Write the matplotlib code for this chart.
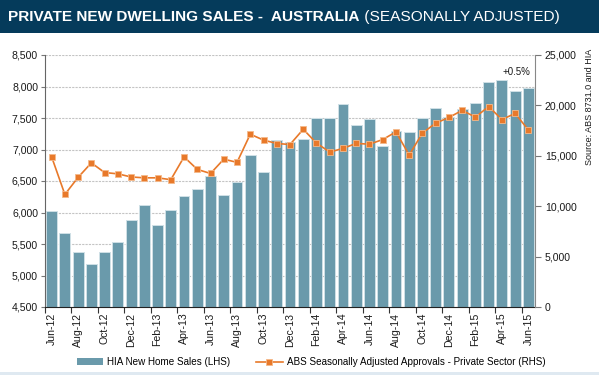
import matplotlib
matplotlib.use('Agg')
import matplotlib.pyplot as plt
import numpy as np
from matplotlib import font_manager
from matplotlib.patches import Rectangle, Patch
from matplotlib.lines import Line2D

names = {f.name for f in font_manager.fontManager.ttflist}
NARROW = 'Liberation Sans Narrow' if 'Liberation Sans Narrow' in names else 'Liberation Sans'
REG = 'Liberation Sans'

months = ['Jun-12', 'Jul-12', 'Aug-12', 'Sep-12', 'Oct-12', 'Nov-12', 'Dec-12',
          'Jan-13', 'Feb-13', 'Mar-13', 'Apr-13', 'May-13', 'Jun-13', 'Jul-13',
          'Aug-13', 'Sep-13', 'Oct-13', 'Nov-13', 'Dec-13', 'Jan-14', 'Feb-14',
          'Mar-14', 'Apr-14', 'May-14', 'Jun-14', 'Jul-14', 'Aug-14', 'Sep-14',
          'Oct-14', 'Nov-14', 'Dec-14', 'Jan-15', 'Feb-15', 'Mar-15', 'Apr-15',
          'May-15', 'Jun-15']

hia_sales = [6020, 5680, 5378, 5182, 5372, 5532, 5876, 6120, 5798, 6035,
             6268, 6368, 6584, 6278, 6490, 6908, 6648, 7152, 7122, 7162,
             7493, 7503, 7721, 7388, 7477, 7058, 7286, 7284, 7495, 7663,
             7520, 7646, 7734, 8068, 8110, 7932, 7972]

abs_approvals = [14900, 11170, 12860, 14300, 13340, 13210, 12900, 12815, 12815, 12630,
                 14890, 13650, 13245, 14665, 14350, 17140, 16560, 16220, 16120, 17633,
                 16260, 15370, 15735, 16230, 16150, 16612, 17370, 15080, 17255, 18240,
                 18800, 19510, 18835, 19890, 18600, 19200, 17567]

left_ticks = [4500, 5000, 5500, 6000, 6500, 7000, 7500, 8000, 8500]
right_ticks = [0, 5000, 10000, 15000, 20000, 25000]

title_bold = 'PRIVATE NEW DWELLING SALES -  AUSTRALIA'
title_rest = ' (SEASONALLY ADJUSTED)'
bar_label = 'HIA New Home Sales (LHS)'
line_label = 'ABS Seasonally Adjusted Approvals - Private Sector (RHS)'
source_text = 'Source: ABS 8731.0 and HIA'
annot_text = '+0.5%'

BAR_C = '#6a9aab'
LINE_C = '#e8792a'
HEADER_C = '#053b5b'
TXT = '#1a1a1a'

fig = plt.figure(figsize=(5.99, 3.75), dpi=100)
fig.patch.set_facecolor('white')

# header bar
fig.patches.append(Rectangle((0, 1 - 33 / 375), 1, 33 / 375, transform=fig.transFigure,
                             facecolor=HEADER_C, edgecolor='none', zorder=0))
# bottom light strip
fig.patches.append(Rectangle((0, 0), 1, 3 / 375, transform=fig.transFigure,
                             facecolor='#dfe9f1', edgecolor='none', zorder=0))

ax = fig.add_axes([45 / 599, 1 - 307 / 375, 490 / 599, 252 / 375])
x = np.arange(len(months))
ax.bar(x, hia_sales, width=0.82, color=BAR_C, edgecolor='#cfe0e6', linewidth=0.7,
       zorder=2)
ax.set_ylim(4500, 8500)
ax.set_xlim(-0.5, len(months) - 0.5)
ax.set_yticks(left_ticks)
ax.set_yticklabels([f'{v:,}' for v in left_ticks], fontfamily=REG, fontsize=7.6, color=TXT)
ax.yaxis.grid(True, color='#c4c4c4', linestyle=(0, (2, 1)), linewidth=0.8)
ax.set_axisbelow(True)

# x ticks: marks at boundaries every two months, labels centred on bars
ax.set_xticks(np.arange(-0.5, len(months), 2))
ax.set_xticklabels([])
ax.tick_params(axis='x', which='major', length=4, width=0.8, color='#333333')
ax.set_xticks(x[::2], minor=True)
ax.set_xticklabels(months[::2], minor=True, rotation=90, fontfamily=REG, fontsize=7.6,
                   color=TXT)
ax.tick_params(axis='x', which='minor', length=0, pad=4)
ax.tick_params(axis='y', length=3, width=0.8, color='#777777', pad=2)

ax.spines['top'].set_visible(False)
ax.spines['left'].set_color('#666666')
ax.spines['bottom'].set_color('#222222')
ax.spines['right'].set_visible(False)

ax2 = ax.twinx()
ax2.plot(x, abs_approvals, color=LINE_C, linewidth=1.2, marker='s', markersize=5,
         markerfacecolor=LINE_C, markeredgecolor='#f5b98a', markeredgewidth=0.6, zorder=3)
ax2.set_ylim(0, 25000)
ax2.set_yticks(right_ticks)
ax2.set_yticklabels([f'{v:,}' for v in right_ticks], fontfamily=REG, fontsize=7.6, color=TXT)
ax2.tick_params(axis='y', length=4, width=0.8, color='#777777', pad=3)
ax2.spines['top'].set_visible(False)
ax2.spines['left'].set_visible(False)
ax2.spines['bottom'].set_visible(False)
ax2.spines['right'].set_color('#888888')

ax2.text(35.07, 23350, annot_text, fontfamily=REG, fontsize=7, color=TXT,
         ha='center', va='center')

fig.text(590 / 599, 1 - 107 / 375, source_text, rotation=90, fontfamily=REG,
         fontsize=6.5, color=TXT, ha='center', va='center')

# title
t1 = fig.text(8 / 599, 1 - 17 / 375, title_bold, color='white', fontweight='bold',
              fontfamily=REG, fontsize=11.1, va='center', ha='left')
fig.canvas.draw()
bb = t1.get_window_extent()
fig.text(bb.x1 / fig.bbox.width, 1 - 17 / 375, title_rest, color='white',
         fontfamily=REG, fontsize=11.1, va='center', ha='left')

handles = [Patch(facecolor=BAR_C, edgecolor='none'),
           Line2D([0], [0], color=LINE_C, linewidth=1.2, marker='s', markersize=5,
                  markerfacecolor=LINE_C, markeredgecolor='#f5b98a', markeredgewidth=0.6)]
fig.legend(handles, [bar_label, line_label], loc='center', ncol=2,
           bbox_to_anchor=(311 / 599, 1 - 362 / 375), frameon=False,
           prop={'family': REG, 'size': 7.1}, handlelength=2.7, columnspacing=2.6,
           handletextpad=0.4)

fig.savefig('out.png', dpi=100)
